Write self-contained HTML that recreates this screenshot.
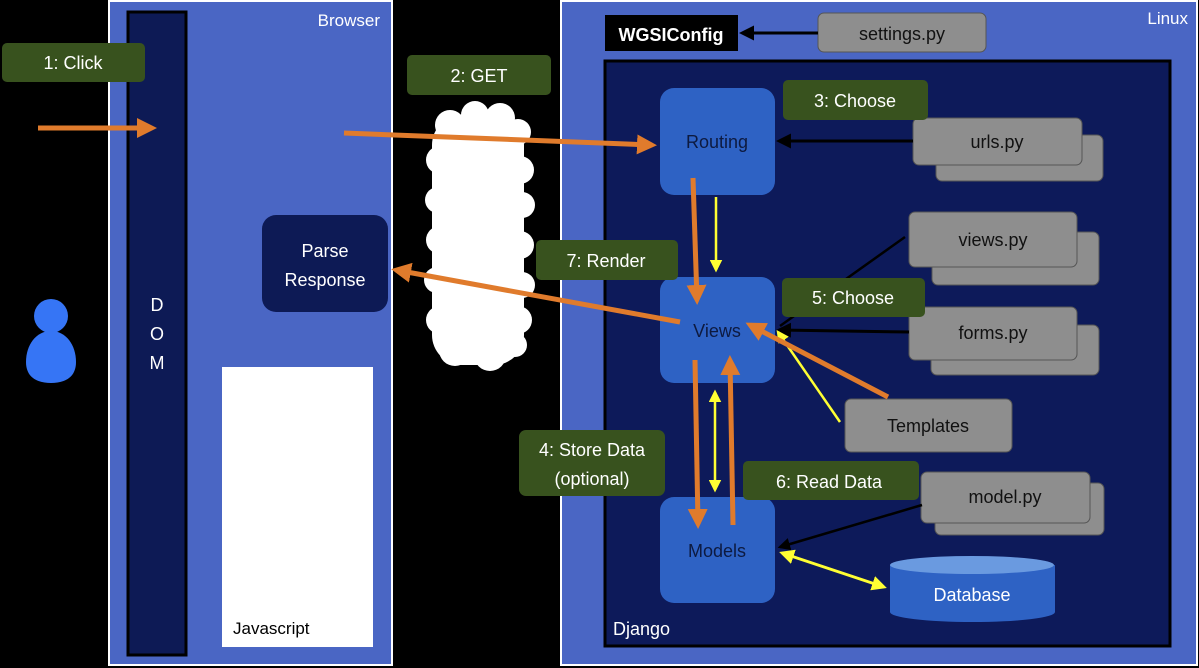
<!DOCTYPE html>
<html><head><meta charset="utf-8"><style>
html,body{margin:0;padding:0;background:#000;width:1199px;height:668px;overflow:hidden}
svg text{font-family:"Liberation Sans",sans-serif}
</style></head><body>
<svg width="1199" height="668" viewBox="0 0 1199 668" xmlns="http://www.w3.org/2000/svg">
<defs>
<marker id="ao" markerWidth="4" markerHeight="4" refX="3" refY="2" orient="auto" markerUnits="strokeWidth"><path d="M0,0 L4,2 L0,4 z" fill="#e07b2c"/></marker>
<marker id="ay" markerWidth="5" markerHeight="5" refX="4" refY="2.5" orient="auto" markerUnits="strokeWidth"><path d="M0,0 L5,2.5 L0,5 z" fill="#ffff33"/></marker>
<marker id="ays" markerWidth="5" markerHeight="5" refX="1" refY="2.5" orient="auto" markerUnits="strokeWidth"><path d="M5,0 L0,2.5 L5,5 z" fill="#ffff33"/></marker>
<marker id="ak" markerWidth="5" markerHeight="5" refX="4" refY="2.5" orient="auto" markerUnits="strokeWidth"><path d="M0,0 L5,2.5 L0,5 z" fill="#000"/></marker>
</defs>
<rect width="1199" height="668" fill="#000"/>
<!-- Browser -->
<rect x="109" y="1" width="283" height="664" fill="#4a66c4" stroke="#fff" stroke-width="2"/>
<text x="380" y="26" fill="#fff" font-size="17" text-anchor="end">Browser</text>
<rect x="128" y="12" width="58" height="643" fill="#0d1a55" stroke="#000" stroke-width="3"/>
<text x="157" y="311" fill="#fff" font-size="18" text-anchor="middle">D</text>
<text x="157" y="340" fill="#fff" font-size="18" text-anchor="middle">O</text>
<text x="157" y="369" fill="#fff" font-size="18" text-anchor="middle">M</text>
<rect x="262" y="215" width="126" height="97" rx="14" fill="#0d1a55"/>
<text x="325" y="257" fill="#fff" font-size="18" text-anchor="middle">Parse</text>
<text x="325" y="286" fill="#fff" font-size="18" text-anchor="middle">Response</text>
<rect x="222" y="367" width="151" height="280" fill="#fff"/>
<text x="233" y="634" fill="#000" font-size="17">Javascript</text>
<!-- person -->
<circle cx="51" cy="316" r="17" fill="#3675f5"/>
<path d="M51,331 C36,331 26,345 26,362 C26,378 38,383 51,383 C64,383 76,378 76,362 C76,345 66,331 51,331 z" fill="#3675f5"/>
<rect x="2" y="43" width="143" height="39" rx="5" fill="#38521e"/>
<text x="73" y="69" fill="#fff" font-size="18" text-anchor="middle">1: Click</text>
<!-- cloud -->
<g fill="#fff">
<rect x="432" y="115" width="92" height="250" rx="30"/>
<circle cx="450" cy="125" r="15"/><circle cx="475" cy="115" r="14"/><circle cx="500" cy="118" r="15"/><circle cx="518" cy="132" r="13"/>
<circle cx="440" cy="160" r="14"/><circle cx="520" cy="170" r="14"/><circle cx="438" cy="200" r="13"/><circle cx="522" cy="205" r="13"/>
<circle cx="440" cy="240" r="14"/><circle cx="520" cy="245" r="14"/><circle cx="437" cy="280" r="13"/><circle cx="522" cy="285" r="13"/>
<circle cx="440" cy="320" r="14"/><circle cx="518" cy="320" r="14"/><circle cx="455" cy="350" r="16"/><circle cx="490" cy="355" r="16"/><circle cx="515" cy="345" r="12"/>
</g>
<rect x="407" y="55" width="144" height="40" rx="5" fill="#38521e"/>
<text x="479" y="82" fill="#fff" font-size="18" text-anchor="middle">2: GET</text>
<!-- Linux -->
<rect x="561" y="1" width="636" height="664" fill="#4a66c4" stroke="#fff" stroke-width="2"/>
<text x="1188" y="24" fill="#fff" font-size="17" text-anchor="end">Linux</text>
<rect x="605" y="15" width="133" height="36" fill="#000"/>
<text x="671" y="41" fill="#fff" font-size="18" font-weight="bold" text-anchor="middle">WGSIConfig</text>
<rect x="818" y="13" width="168" height="39" rx="6" fill="#8e8e8e" stroke="#555"/>
<text x="902" y="40" fill="#111" font-size="18" text-anchor="middle">settings.py</text>
<line x1="818" y1="33" x2="742" y2="33" stroke="#000" stroke-width="3" marker-end="url(#ak)"/>
<rect x="605" y="61" width="565" height="585" fill="#0d1a5a" stroke="#000" stroke-width="3"/>
<text x="613" y="635" fill="#fff" font-size="18">Django</text>
<!-- nodes -->
<rect x="660" y="88" width="115" height="107" rx="14" fill="#2e62c4"/>
<text x="717" y="148" fill="#0d1a40" font-size="18" text-anchor="middle">Routing</text>
<rect x="660" y="277" width="115" height="106" rx="14" fill="#2e62c4"/>
<text x="717" y="337" fill="#0d1a40" font-size="18" text-anchor="middle">Views</text>
<rect x="660" y="497" width="115" height="106" rx="14" fill="#2e62c4"/>
<text x="717" y="557" fill="#0d1a40" font-size="18" text-anchor="middle">Models</text>
<!-- files -->
<g fill="#8e8e8e" stroke="#555">
<rect x="936" y="135" width="167" height="46" rx="6"/><rect x="913" y="118" width="169" height="47" rx="6"/>
<rect x="932" y="232" width="167" height="53" rx="6"/><rect x="909" y="212" width="168" height="55" rx="6"/>
<rect x="931" y="325" width="168" height="50" rx="6"/><rect x="909" y="307" width="168" height="53" rx="6"/>
<rect x="845" y="399" width="167" height="53" rx="6"/>
<rect x="935" y="483" width="169" height="52" rx="6"/><rect x="921" y="472" width="169" height="51" rx="6"/>
</g>
<g fill="#111" font-size="18" text-anchor="middle">
<text x="997" y="148">urls.py</text><text x="993" y="246">views.py</text><text x="993" y="339">forms.py</text>
<text x="928" y="432">Templates</text><text x="1005" y="503">model.py</text>
</g>
<!-- database -->
<path d="M890,565 L890,612 A82,10 0 0 0 1055,612 L1055,565 z" fill="#2e62c4"/>
<ellipse cx="972" cy="565" rx="82" ry="9" fill="#6a9ae0"/>
<text x="972" y="601" fill="#fff" font-size="18" text-anchor="middle">Database</text>
<!-- black connectors -->
<line x1="913" y1="141" x2="779" y2="141" stroke="#000" stroke-width="3" marker-end="url(#ak)"/>
<line x1="905" y1="237" x2="780" y2="326" stroke="#000" stroke-width="2.5"/>
<line x1="909" y1="332" x2="779" y2="330" stroke="#000" stroke-width="3" marker-end="url(#ak)"/>
<line x1="922" y1="505" x2="780" y2="547" stroke="#000" stroke-width="2.5" marker-end="url(#ak)"/>
<!-- labels -->
<g fill="#38521e">
<rect x="783" y="80" width="145" height="40" rx="5"/><rect x="536" y="240" width="142" height="40" rx="5"/>
<rect x="782" y="278" width="143" height="39" rx="5"/><rect x="519" y="430" width="146" height="66" rx="7"/>
<rect x="743" y="461" width="176" height="39" rx="5"/>
</g>
<g fill="#fff" font-size="18" text-anchor="middle">
<text x="855" y="107">3: Choose</text><text x="606" y="267">7: Render</text><text x="853" y="304">5: Choose</text>
<text x="592" y="456">4: Store Data</text><text x="592" y="485">(optional)</text><text x="829" y="488">6: Read Data</text>
</g>
<!-- yellow -->
<line x1="716" y1="197" x2="716" y2="270" stroke="#ffff33" stroke-width="2.5" marker-end="url(#ay)"/>
<line x1="715" y1="392" x2="715" y2="490" stroke="#ffff33" stroke-width="2.5" marker-start="url(#ays)" marker-end="url(#ay)"/>
<line x1="840" y1="422" x2="778" y2="332" stroke="#ffff33" stroke-width="2.5" marker-end="url(#ay)"/>
<line x1="782" y1="553" x2="884" y2="587" stroke="#ffff33" stroke-width="3" marker-start="url(#ays)" marker-end="url(#ay)"/>
<!-- orange -->
<g stroke="#e07b2c" stroke-width="5" fill="none">
<line x1="38" y1="128" x2="152" y2="128" marker-end="url(#ao)"/>
<line x1="344" y1="133" x2="652" y2="145" marker-end="url(#ao)"/>
<line x1="680" y1="322" x2="396" y2="270" marker-end="url(#ao)"/>
<line x1="693" y1="178" x2="697" y2="300" marker-end="url(#ao)"/>
<line x1="695" y1="360" x2="698" y2="524" marker-end="url(#ao)"/>
<line x1="733" y1="525" x2="730" y2="360" marker-end="url(#ao)"/>
<line x1="888" y1="397" x2="750" y2="325" marker-end="url(#ao)"/>
</g>
</svg>
</body></html>
